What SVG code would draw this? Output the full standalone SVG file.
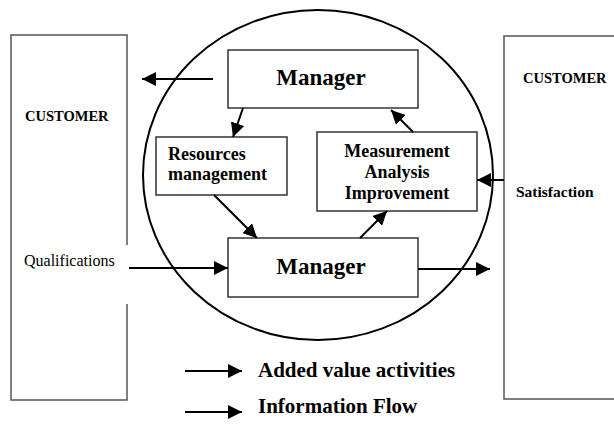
<svg xmlns="http://www.w3.org/2000/svg" width="614" height="430" viewBox="0 0 614 430">
<style>
.box{fill:#fff;stroke:#333;stroke-width:1.5}
.cust{fill:#fff;stroke:#555;stroke-width:1.5}
.t{font-family:"Liberation Serif","Times New Roman",serif;fill:#000}
.b{font-weight:bold}
.c{stroke:#000;stroke-width:2;fill:none}
</style>
<defs>
<marker id="ah" markerUnits="userSpaceOnUse" markerWidth="16" markerHeight="14" refX="14" refY="7" orient="auto">
<path d="M0,0 L14,7 L0,14 Z" fill="#000"/>
</marker>
</defs>
<rect width="614" height="430" fill="#fff"/>
<g id="customer-left">
<rect class="cust" x="11" y="35" width="116" height="365"/>
<rect x="118" y="245" width="12" height="59" fill="#fff"/>
<text class="t b" x="25" y="121" font-size="14.5">CUSTOMER</text>
<text class="t" x="24" y="266" font-size="16">Qualifications</text>
</g>
<g id="customer-right">
<rect class="cust" x="504" y="36" width="120" height="363"/>
<text class="t b" x="523" y="83" font-size="14.5">CUSTOMER</text>
<text class="t b" x="516" y="197" font-size="15.5">Satisfaction</text>
</g>
<g id="process-circle">
<ellipse cx="318" cy="175" rx="175" ry="165" fill="none" stroke="#000" stroke-width="2"/>
</g>
<g id="manager-top">
<rect class="box" x="228" y="50" width="190" height="58"/>
<text class="t b" x="321" y="85" font-size="23" text-anchor="middle">Manager</text>
</g>
<g id="resources">
<rect class="box" x="156" y="137" width="131" height="58"/>
<text class="t b" x="168" y="160" font-size="18">Resources</text>
<text class="t b" x="168" y="180" font-size="18">management</text>
</g>
<g id="measurement">
<rect class="box" x="317" y="132" width="160" height="79"/>
<text class="t b" x="397" y="157" font-size="18" text-anchor="middle">Measurement</text>
<text class="t b" x="397" y="178" font-size="18" text-anchor="middle">Analysis</text>
<text class="t b" x="397" y="199" font-size="18" text-anchor="middle">Improvement</text>
</g>
<g id="manager-bottom">
<rect class="box" x="228" y="238" width="190" height="59"/>
<text class="t b" x="321" y="274" font-size="23" text-anchor="middle">Manager</text>
</g>
<g id="legend">
<text class="t b" x="258" y="377" font-size="21">Added value activities</text>
<text class="t b" x="258" y="413" font-size="21">Information Flow</text>
</g>
<g id="connectors">
<line class="c" x1="213" y1="79" x2="142" y2="79" marker-end="url(#ah)"/>
<line class="c" x1="243" y1="108" x2="233" y2="137" marker-end="url(#ah)"/>
<line class="c" x1="214" y1="195" x2="257" y2="238" marker-end="url(#ah)"/>
<line class="c" x1="360" y1="238" x2="387" y2="211" marker-end="url(#ah)"/>
<line class="c" x1="413" y1="132" x2="391" y2="110" marker-end="url(#ah)"/>
<line class="c" x1="504" y1="180" x2="477" y2="180" marker-end="url(#ah)"/>
<line class="c" x1="129" y1="268" x2="228" y2="268" marker-end="url(#ah)"/>
<line class="c" x1="418" y1="269" x2="490" y2="269" marker-end="url(#ah)"/>
<line class="c" x1="185" y1="371" x2="242" y2="371" marker-end="url(#ah)"/>
<line class="c" x1="185" y1="412" x2="242" y2="412" marker-end="url(#ah)"/>
</g>
</svg>
